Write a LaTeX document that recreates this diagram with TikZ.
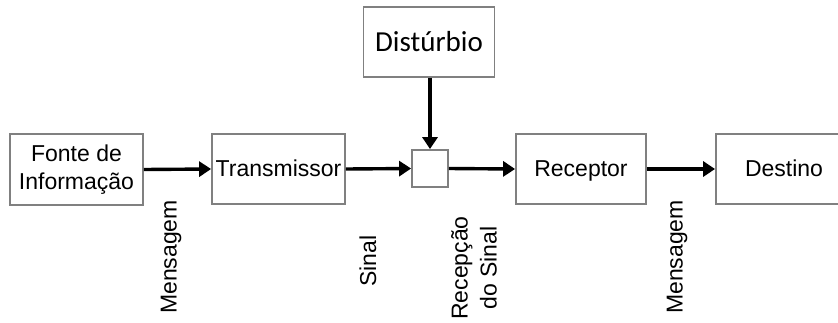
\documentclass[tikz,border=0pt]{standalone}
\usepackage{fontspec}
\setmainfont{Liberation Sans}
\newfontfamily\calibrifont{Carlito}
\usetikzlibrary{arrows.meta}
\definecolor{boxgray}{RGB}{128,128,128}

\begin{document}
\begin{tikzpicture}[x=1pt,y=-1pt,
  blk/.style={draw=boxgray, line width=1.8pt, fill=white, inner sep=0pt,
    font=\fontsize{23}{28}\selectfont, align=center},
  oneline/.style={text height=16.5pt, text depth=2.5pt},
  flow/.style={line width=3.4pt, -{Triangle[length=12pt,width=15pt]}},
  lbl/.style={rotate=90, inner sep=0pt, align=center,
    font=\fontsize{23}{29}\selectfont}]

\useasboundingbox (0,0) rectangle (838,322);
\clip (0,0) rectangle (838,322);

% blocks of the communication chain
\node[blk, minimum width=133pt, minimum height=71pt] (fonte) at (76.5,169.5) {Fonte de\\Informação};
\node[blk, oneline, minimum width=133pt, minimum height=70pt] (trans) at (278.5,169) {Transmissor};
\node[blk, minimum width=131pt, minimum height=70pt, font=\calibrifont\fontsize{29}{32}\selectfont] (dist) at (429,42) {Distúrbio};
\node[blk, minimum width=36pt, minimum height=37pt] (soma) at (430,168.5) {};
\node[blk, oneline, minimum width=130pt, minimum height=70pt] (rec) at (581,169) {Receptor};
\node[blk, oneline, minimum width=136pt, minimum height=70pt] (dest) at (784,169) {Destino};

% signal flow
\draw[flow] (fonte.east) -- (trans.west);
\draw[flow] (trans.east) -- (soma.west);
\draw[flow] (dist.south -| soma.north) -- (soma.north);
\draw[flow] (soma.east) -- (rec.west);
\draw[flow] (rec.east) -- (dest.west);

% vertical labels under the links
\node[lbl] (m1) at (171,257) {Mensagem};
\node[lbl] (s1) at (368,261) {Sinal};
\node[lbl] (r1) at (474,268) {Recepção\\do Sinal};
\node[lbl] (m2) at (677,257) {Mensagem};
\end{tikzpicture}
\end{document}
